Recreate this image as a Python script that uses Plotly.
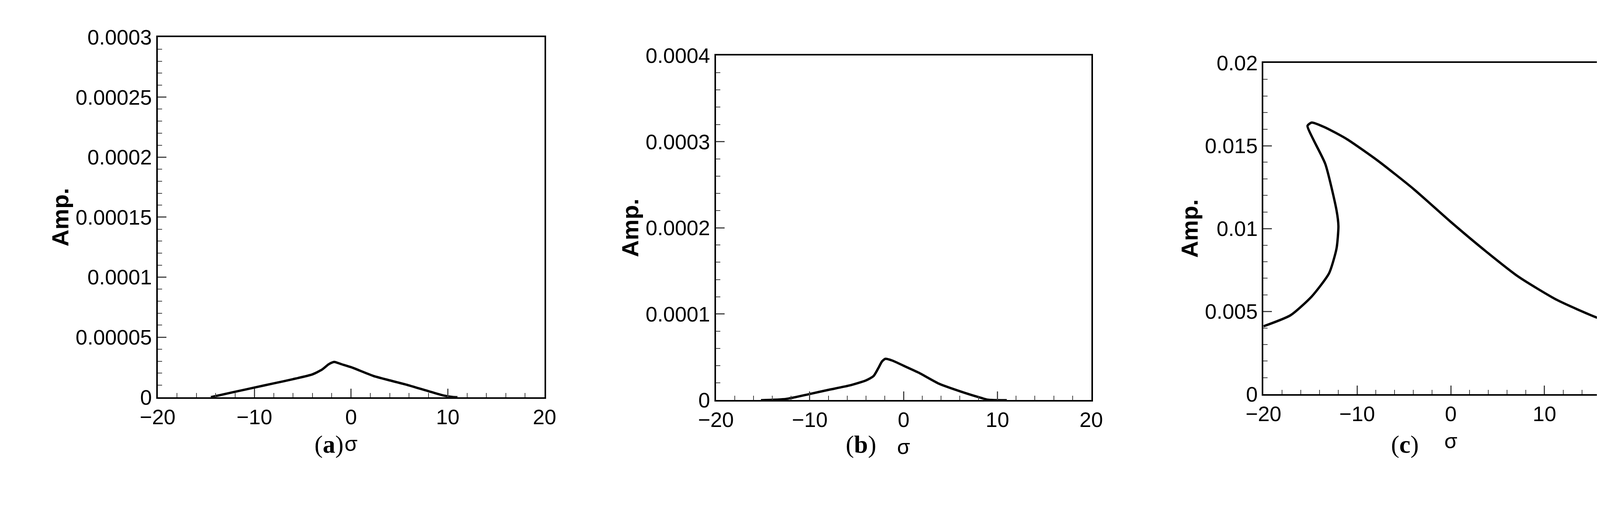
import plotly.graph_objects as go

# Panel (a)
sig_a = [-14.5, -12, -10, -8, -6, -4, -3, -2.3, -1.75, -1, 0, 2.3, 4, 5.9, 8, 9.5, 10.5, 11]
amp_a = [0, 4.5e-6, 8e-6, 1.15e-5, 1.5e-5, 1.9e-5, 2.3e-5, 2.75e-5, 2.94e-5, 2.75e-5, 2.5e-5, 1.77e-5, 1.4e-5, 1.0e-5, 5.0e-6, 1.5e-6, 0.2e-6, 0]
# Panel (b)
sig_b = [-15.2, -12.5, -10, -8, -5.8, -4, -3.2, -2.7, -2.3, -1.94, -1.2, 0, 1.6, 3.8, 6.1, 8, 9, 11]
amp_b = [0, 1.5e-6, 7.2e-6, 1.2e-5, 1.7e-5, 2.3e-5, 2.8e-5, 3.7e-5, 4.5e-5, 4.8e-5, 4.6e-5, 4.0e-5, 3.2e-5, 1.9e-5, 1.0e-5, 3.5e-6, 0.5e-6, 0]
# Panel (c)
sig_c = [-20, -17.1, -14.85, -13, -12.2, -12, -12.2, -13.4, -14.7, -15.3, -14.85, -13.4, -11.1, -7.8, -4.0, 0, 3.8, 7.2, 11.3, 15.7, 20]
amp_c = [4.1e-3, 4.77e-3, 5.9e-3, 7.3e-3, 8.8e-3, 10.15e-3, 11.1e-3, 13.9e-3, 15.4e-3, 16.2e-3, 16.4e-3, 16.1e-3, 15.4e-3, 14.1e-3, 12.4e-3, 10.4e-3, 8.6e-3, 7.1e-3, 5.7e-3, 4.6e-3, 3.8e-3]

x_ticks = [-20, -10, 0, 10, 20]
y_ticks_a = [0, 0.00005, 0.0001, 0.00015, 0.0002, 0.00025, 0.0003]
y_labels_a = ["0", "0.00005", "0.0001", "0.00015", "0.0002", "0.00025", "0.0003"]
y_ticks_b = [0, 0.0001, 0.0002, 0.0003, 0.0004]
y_labels_b = ["0", "0.0001", "0.0002", "0.0003", "0.0004"]
y_ticks_c = [0, 0.005, 0.01, 0.015, 0.02]
y_labels_c = ["0", "0.005", "0.01", "0.015", "0.02"]
panel_labels = ["a", "b", "c"]

fig = go.Figure()
panels = [
    (sig_a, amp_a, [0.0831, 0.3185], [0.2126, 0.954], [0, 0.0003], y_ticks_a, y_labels_a, 0.00001, 0.178),
    (sig_b, amp_b, [0.4228, 0.6512], [0.2064, 0.9163], [0, 0.0004], y_ticks_b, y_labels_b, 0.00002, 0.511),
    (sig_c, amp_c, [0.7560, 0.984], [0.2187, 0.901], [0, 0.02], y_ticks_c, y_labels_c, 0.001, 0.851),
]
font = dict(family="Liberation Sans, Arial", size=54, color="black")
for i, (sx, sy, dx, dy, yr, yt, yl, ymin, lx) in enumerate(panels):
    n = "" if i == 0 else str(i + 1)
    fig.add_trace(go.Scatter(x=sx, y=sy, mode="lines", line=dict(color="black", width=6, shape="spline", smoothing=0.6),
                             xaxis="x" + n, yaxis="y" + n, showlegend=False))
    fig.update_layout(**{
        "xaxis" + n: dict(domain=dx, range=[-20, 20], anchor="y" + n, tickvals=x_ticks, ticks="inside", ticklen=22,
                          tickwidth=3, showline=True, mirror=True, linecolor="black", linewidth=4, showgrid=False,
                          zeroline=False, tickfont=font, title=dict(text="σ", font=font, standoff=22),
                          minor=dict(dtick=2, ticks="inside", ticklen=11, tickwidth=2, showgrid=False)),
        "yaxis" + n: dict(domain=dy, range=yr, anchor="x" + n, tickvals=yt, ticktext=yl, ticks="inside", ticklen=22,
                          tickwidth=3, showline=True, mirror=True, linecolor="black", linewidth=4, showgrid=False,
                          zeroline=False, tickfont=font,
                          title=dict(text="<b>Amp.</b>", font=dict(family="Liberation Sans, Arial", size=60, color="black"), standoff=0),
                          minor=dict(dtick=ymin, ticks="inside", ticklen=11, tickwidth=2, showgrid=False)),
    })
    fig.add_annotation(x=lx, y=0.085, xref="paper", yref="paper", showarrow=False,
                       text="(<b>" + panel_labels[i] + "</b>)",
                       font=dict(family="Liberation Serif, Times New Roman", size=64, color="black"))

fig.update_layout(width=4283, height=1303, margin=dict(l=0, r=0, t=0, b=0),
                  plot_bgcolor="white", paper_bgcolor="white")
fig.write_html("out.html")
